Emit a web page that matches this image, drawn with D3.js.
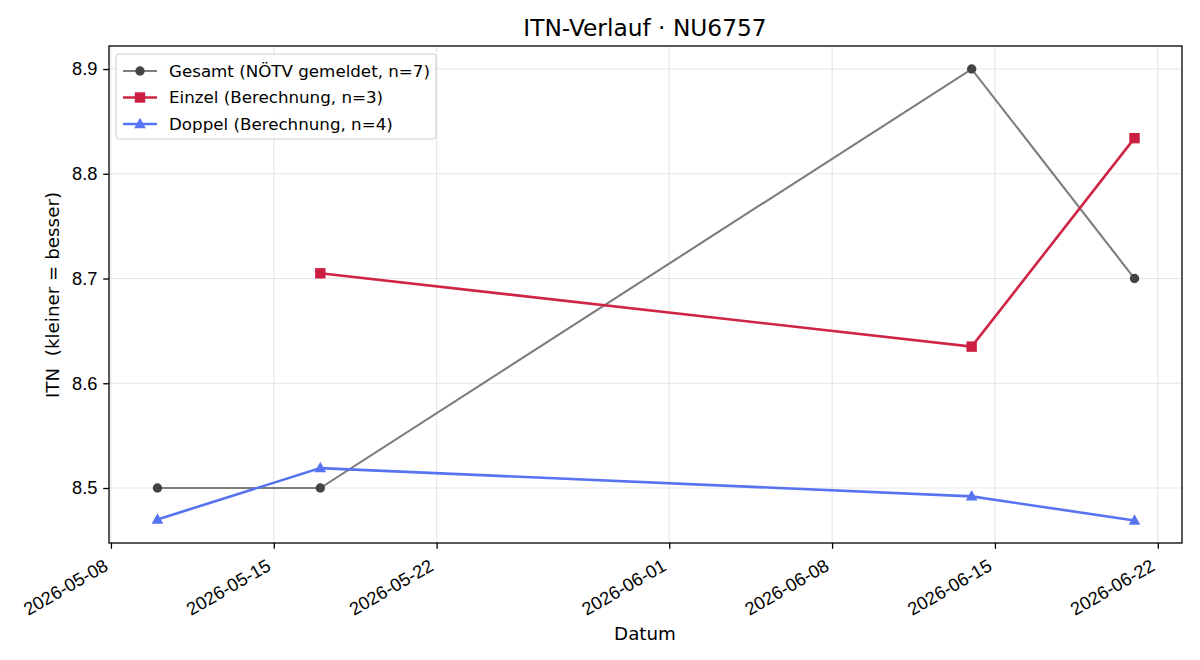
<!DOCTYPE html>
<html>
<head>
<meta charset="utf-8">
<script src="https://cdn.jsdelivr.net/npm/d3@7.9.0/dist/d3.min.js"></script>
<style>
  body { margin: 0; background: #fff; }
  svg { font-family: "DejaVu Sans", sans-serif; display: block; }
</style>
</head>
<body>
<svg id="chart" width="1200" height="660"></svg>
<script>
// data
const gesamtDates = ['2026-05-10', '2026-05-17', '2026-06-14', '2026-06-21'];
const gesamtVals = [8.5, 8.5, 8.9, 8.7];
const einzelDates = ['2026-05-17', '2026-06-14', '2026-06-21'];
const einzelVals = [8.705, 8.635, 8.834];
const doppelDates = ['2026-05-10', '2026-05-17', '2026-06-14', '2026-06-21'];
const doppelVals = [8.47, 8.519, 8.492, 8.469];
const xTicks = ['2026-05-08', '2026-05-15', '2026-05-22', '2026-06-01', '2026-06-08', '2026-06-15', '2026-06-22'];
const yTicks = [8.5, 8.6, 8.7, 8.8, 8.9];

const parse = d3.utcParse('%Y-%m-%d');
const fmt = d3.utcFormat('%Y-%m-%d');

const svg = d3.select('#chart');
const m = { left: 109, right: 1182, top: 46, bottom: 543 };
const fs = 16.7;    // legend
const tfs = 18.3;   // tick + axis labels

const x = d3.scaleUtc()
  .domain([d3.utcHour.offset(parse('2026-05-10'), -2.06 * 24), d3.utcHour.offset(parse('2026-06-21'), 2.08 * 24)])
  .range([m.left, m.right]);
const y = d3.scaleLinear().domain([8.4475, 8.922]).range([m.bottom, m.top]);

// grid
const grid = svg.append('g').attr('stroke', '#b0b0b0').attr('stroke-opacity', 0.3).attr('stroke-width', 1.1);
xTicks.forEach(t => grid.append('line')
  .attr('x1', x(parse(t))).attr('x2', x(parse(t))).attr('y1', m.top).attr('y2', m.bottom));
yTicks.forEach(t => grid.append('line')
  .attr('x1', m.left).attr('x2', m.right).attr('y1', y(t)).attr('y2', y(t)));

// axes
const xAxis = svg.append('g').attr('transform', `translate(0,${m.bottom})`)
  .call(d3.axisBottom(x).tickValues(xTicks.map(parse)).tickFormat(fmt).tickSize(5.8).tickSizeOuter(0));
xAxis.selectAll('text')
  .attr('font-size', tfs).attr('fill', '#000')
  .attr('text-anchor', 'end')
  .attr('dy', null).attr('y', 17)
  .attr('transform', 'translate(-10.7,11.6) rotate(-30)');

const yAxis = svg.append('g').attr('transform', `translate(${m.left},0)`)
  .call(d3.axisLeft(y).tickValues(yTicks).tickFormat(d3.format('.1f')).tickSize(5.8).tickSizeOuter(0));
yAxis.selectAll('text').attr('font-size', tfs).attr('fill', '#000').attr('x', -11.6);

[xAxis, yAxis].forEach(a => {
  a.select('.domain').remove();
  a.selectAll('line').attr('stroke', '#000').attr('stroke-width', 1.3);
});

// frame
svg.append('rect').attr('x', m.left).attr('y', m.top)
  .attr('width', m.right - m.left).attr('height', m.bottom - m.top)
  .attr('fill', 'none').attr('stroke', '#000').attr('stroke-width', 1.3);

// series
const series = [
  { name: 'Gesamt (NÖTV gemeldet, n=7)', dates: gesamtDates, vals: gesamtVals, line: '#7d7d7d', mark: '#444444', width: 2.1, shape: 'circle' },
  { name: 'Einzel (Berechnung, n=3)', dates: einzelDates, vals: einzelVals, line: '#cf2446', mark: '#cc1e40', width: 2.6, shape: 'square' },
  { name: 'Doppel (Berechnung, n=4)', dates: doppelDates, vals: doppelVals, line: '#5673f2', mark: '#5673f2', width: 2.6, shape: 'triangle' }
];

const line = d3.line().x(d => x(d[0])).y(d => y(d[1]));

function drawMarker(g, shape, cx, cy, color) {
  if (shape === 'circle') {
    g.append('circle').attr('cx', cx).attr('cy', cy).attr('r', 4.7).attr('fill', color);
  } else if (shape === 'square') {
    g.append('rect').attr('x', cx - 5.2).attr('y', cy - 5.2).attr('width', 10.4).attr('height', 10.4).attr('fill', color);
  } else {
    g.append('path').attr('d', `M${cx},${cy - 6.3}L${cx + 5.8},${cy + 4.2}L${cx - 5.8},${cy + 4.2}Z`).attr('fill', color);
  }
}

series.forEach(s => {
  const pts = s.dates.map((d, i) => [parse(d), s.vals[i]]);
  const g = svg.append('g');
  g.append('path').datum(pts).attr('d', line)
    .attr('fill', 'none').attr('stroke', s.line).attr('stroke-width', s.width);
  pts.forEach(p => drawMarker(g, s.shape, x(p[0]), y(p[1]), s.mark));
});

// legend
const lg = svg.append('g');
lg.append('rect').attr('x', 116).attr('y', 54).attr('width', 320).attr('height', 85).attr('rx', 3)
  .attr('fill', '#fff').attr('fill-opacity', 0.8).attr('stroke', '#cccccc').attr('stroke-width', 1);
series.forEach((s, i) => {
  const ly = 71 + i * 26.5;
  lg.append('line').attr('x1', 123).attr('x2', 157).attr('y1', ly).attr('y2', ly)
    .attr('stroke', s.line).attr('stroke-width', s.width);
  drawMarker(lg, s.shape, 140, ly, s.mark);
  lg.append('text').attr('x', 169).attr('y', ly).attr('dy', '0.35em')
    .attr('font-size', fs).text(s.name);
});

// titles
svg.append('text').attr('x', 645).attr('y', 36).attr('text-anchor', 'middle')
  .attr('font-size', 23.3).text('ITN-Verlauf · NU6757');
svg.append('text').attr('x', 645).attr('y', 640).attr('text-anchor', 'middle')
  .attr('font-size', tfs).text('Datum');
svg.append('text').attr('transform', 'translate(59,295) rotate(-90)').attr('text-anchor', 'middle')
  .style('white-space', 'pre')
  .attr('font-size', tfs).text('ITN  (kleiner = besser)');
</script>
</body>
</html>
